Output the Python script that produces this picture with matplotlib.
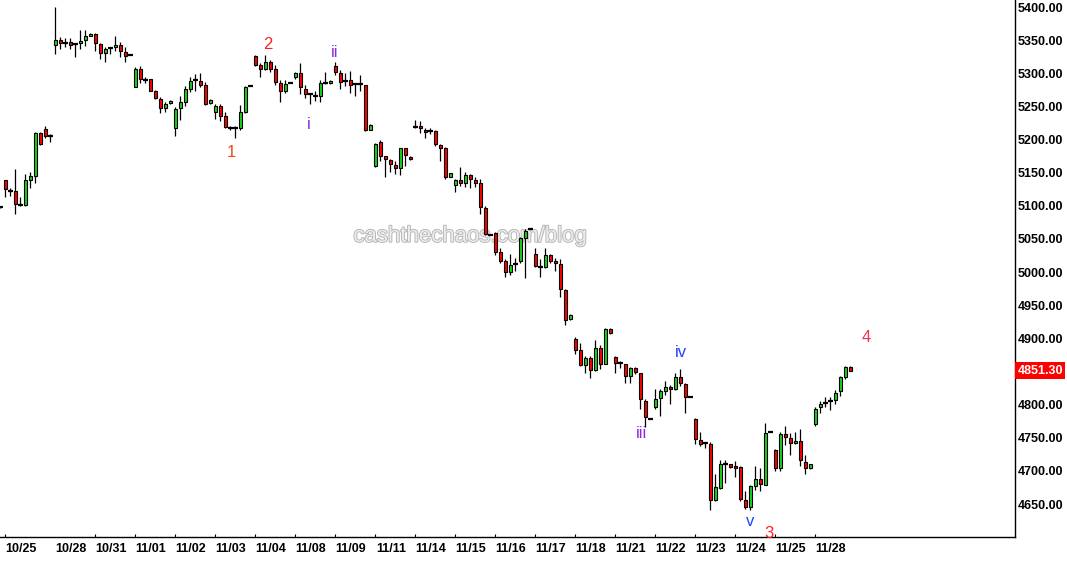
import numpy as np
import matplotlib.pyplot as plt
import matplotlib.transforms as mtransforms
import matplotlib.patheffects as pe

# hourly bars, 8 per session (first 11 belong to the 10/24-10/25 tail)
opens = [5098, 5139, 5122, 5122, 5101, 5101, 5139, 5145, 5210, 5216, 5205,
         5343, 5350, 5346, 5347, 5344, 5345, 5350, 5357,
         5359, 5344, 5330, 5338, 5339, 5342, 5332, 5328,
         5280, 5307, 5290, 5291, 5274, 5261, 5247, 5255,
         5218, 5247, 5257, 5277, 5290, 5288, 5282, 5255,
         5242, 5251, 5236, 5218, 5217, 5217, 5242, 5281,
         5326, 5312, 5306, 5317, 5306, 5286, 5274, 5286,
         5294, 5300, 5277, 5268, 5266, 5265, 5285, 5285,
         5311, 5301, 5289, 5290, 5284, 5284, 5282, 5215,
         5160, 5196, 5175, 5169, 5161, 5157, 5187, 5174,
         5219, 5221, 5215, 5213, 5213, 5192, 5188, 5144,
         5132, 5139, 5135, 5146, 5139, 5134, 5097, 5056,
         5059, 5030, 5017, 5000, 5012, 5016, 5052, 5065,
         5027, 5008, 5007, 5026, 5017, 5012, 4973, 4929,
         4899, 4882, 4860, 4871, 4852, 4886, 4862, 4914,
         4872, 4863, 4861, 4843, 4855, 4847, 4806, 4779,
         4796, 4810, 4821, 4827, 4823, 4841, 4831, 4812,
         4779, 4746, 4742, 4741, 4656, 4674, 4710, 4710,
         4707, 4706, 4656, 4646, 4677, 4688, 4679, 4758,
         4732, 4705, 4756, 4749, 4742, 4745, 4714, 4704,
         4771, 4796, 4803, 4806, 4807, 4821, 4842, 4857]
highs = [5099, 5139, 5127, 5156, 5113, 5148, 5151, 5212, 5211, 5220, 5208,
         5400, 5355, 5353, 5353, 5345, 5365, 5366, 5361,
         5361, 5345, 5340, 5339, 5357, 5347, 5340, 5328,
         5310, 5311, 5295, 5292, 5275, 5264, 5257, 5259,
         5249, 5265, 5281, 5295, 5299, 5300, 5287, 5261,
         5253, 5253, 5241, 5220, 5220, 5252, 5281, 5281,
         5328, 5316, 5328, 5320, 5312, 5290, 5290, 5286,
         5302, 5315, 5282, 5270, 5273, 5290, 5302, 5290,
         5317, 5305, 5300, 5303, 5286, 5297, 5283, 5223,
         5195, 5200, 5175, 5170, 5167, 5188, 5188, 5175,
         5229, 5228, 5217, 5217, 5214, 5193, 5189, 5150,
         5140, 5158, 5151, 5148, 5143, 5141, 5099, 5056,
         5061, 5037, 5019, 5027, 5021, 5053, 5065, 5065,
         5036, 5019, 5037, 5027, 5021, 5019, 4974, 4936,
         4902, 4893, 4873, 4873, 4898, 4890, 4915, 4915,
         4873, 4866, 4862, 4857, 4857, 4848, 4808, 4779,
         4823, 4823, 4835, 4830, 4848, 4853, 4832, 4812,
         4780, 4759, 4744, 4743, 4695, 4716, 4716, 4711,
         4715, 4707, 4669, 4678, 4707, 4704, 4772, 4758,
         4733, 4759, 4768, 4757, 4759, 4763, 4724, 4711,
         4796, 4806, 4812, 4811, 4822, 4843, 4858, 4858]
lows = [5097, 5113, 5115, 5088, 5099, 5100, 5127, 5134, 5192, 5202, 5196,
        5329, 5337, 5340, 5337, 5324, 5337, 5341, 5356,
        5333, 5321, 5317, 5329, 5333, 5324, 5317, 5328,
        5279, 5286, 5285, 5273, 5261, 5240, 5242, 5254,
        5206, 5229, 5251, 5272, 5274, 5279, 5252, 5254,
        5231, 5228, 5218, 5215, 5203, 5214, 5240, 5281,
        5311, 5295, 5305, 5302, 5282, 5257, 5271, 5286,
        5292, 5269, 5263, 5254, 5258, 5257, 5284, 5284,
        5297, 5276, 5281, 5270, 5266, 5274, 5213, 5214,
        5159, 5167, 5143, 5151, 5148, 5146, 5160, 5169,
        5218, 5210, 5202, 5208, 5190, 5168, 5140, 5143,
        5121, 5130, 5128, 5127, 5129, 5088, 5056, 5056,
        5026, 5014, 4992, 4996, 5002, 5013, 4991, 5065,
        5008, 4993, 5006, 5014, 5001, 4962, 4920, 4928,
        4877, 4858, 4848, 4840, 4851, 4853, 4861, 4907,
        4848, 4855, 4833, 4833, 4846, 4793, 4766, 4779,
        4794, 4783, 4815, 4801, 4822, 4828, 4788, 4812,
        4741, 4737, 4734, 4641, 4655, 4672, 4681, 4705,
        4690, 4654, 4642, 4641, 4671, 4669, 4679, 4758,
        4700, 4700, 4739, 4724, 4741, 4707, 4695, 4703,
        4768, 4788, 4797, 4792, 4801, 4813, 4838, 4851]
closes = [5098, 5125, 5122, 5103, 5101, 5139, 5145, 5210, 5193, 5205, 5205,
          5350, 5345, 5346, 5342, 5344, 5349, 5356, 5360,
          5345, 5330, 5336, 5338, 5342, 5333, 5326, 5328,
          5307, 5291, 5290, 5274, 5262, 5247, 5253, 5258,
          5246, 5257, 5276, 5288, 5290, 5283, 5254, 5260,
          5251, 5236, 5219, 5218, 5217, 5241, 5279, 5281,
          5313, 5306, 5317, 5307, 5287, 5274, 5284, 5286,
          5300, 5280, 5268, 5268, 5266, 5286, 5285, 5289,
          5302, 5287, 5289, 5283, 5284, 5284, 5214, 5222,
          5194, 5175, 5170, 5163, 5157, 5187, 5177, 5170,
          5219, 5217, 5212, 5213, 5194, 5187, 5143, 5149,
          5139, 5135, 5146, 5140, 5135, 5098, 5057, 5056,
          5031, 5017, 5000, 5011, 5012, 5051, 5062, 5065,
          5009, 5008, 5026, 5017, 5013, 4974, 4928, 4935,
          4882, 4860, 4871, 4852, 4886, 4862, 4914, 4908,
          4863, 4863, 4843, 4855, 4849, 4808, 4782, 4779,
          4808, 4820, 4826, 4823, 4841, 4832, 4811, 4812,
          4748, 4741, 4742, 4656, 4675, 4710, 4710, 4706,
          4705, 4657, 4645, 4677, 4688, 4680, 4757, 4758,
          4705, 4756, 4751, 4742, 4745, 4717, 4704, 4710,
          4794, 4801, 4803, 4806, 4818, 4841, 4856, 4851.3]

day_labels = ["10/28", "10/31", "11/01", "11/02", "11/03", "11/04", "11/08",
              "11/09", "11/11", "11/14", "11/15", "11/16", "11/17", "11/18",
              "11/21", "11/22", "11/23", "11/24", "11/25", "11/28"]
first_label = "10/25"
bars_per_day = 8
first_day_bar = 11

last_price = 4851.30
price_ticks = [5400, 5350, 5300, 5250, 5200, 5150, 5100, 5050, 5000, 4950,
               4900, 4800, 4750, 4700, 4650]

# wave count labels: text, bar position, price level, colour
wave_text = ["1", "2", "i", "ii", "iii", "iv", "v", "3", "4"]
wave_bar = [46.3, 53.5, 61.7, 66.9, 128.3, 136.1, 149.9, 153.7, 173.1]
wave_price = [5180, 5344, 5223, 5332, 4756, 4879, 4624, 4606, 4902]
wave_color = ["#f04a1a", "#ff2020", "#8a2be2", "#8a2be2", "#8a2be2",
              "#2040ff", "#2040ff", "#ff2020", "#f0305a"]

plt.rcParams['font.family'] = ['Liberation Sans', 'DejaVu Sans']

o = np.array(opens, dtype=float)
h = np.array(highs, dtype=float)
l = np.array(lows, dtype=float)
c = np.array(closes, dtype=float)
x = np.arange(len(o))

fig = plt.figure(figsize=(10.67, 5.61), dpi=100)
ax = fig.add_axes([0, 1 - 537 / 561, 1015 / 1067, 537 / 561])

# watermark behind the candles
ax.text(0.4634, 0.56, "cashthechaos.com/blog", transform=ax.transAxes,
        fontsize=16, color="#ececec", ha="center", va="center", zorder=0,
        path_effects=[pe.withStroke(linewidth=1.3, foreground="#b4b4b4")])

# wicks
ax.vlines(x, l, h, color="black", linewidth=0.9, zorder=2)

# bodies
up = c > o
down = c < o
flat = c == o
body_w = 0.64
ax.bar(x[up], (c - o)[up], bottom=o[up], width=body_w, color="#19d419",
       edgecolor="black", linewidth=0.8, zorder=3)
ax.bar(x[down], (o - c)[down], bottom=c[down], width=body_w, color="#ff0000",
       edgecolor="black", linewidth=0.8, zorder=3)
ax.hlines(o[flat], x[flat] - 0.45, x[flat] + 0.45, color="black",
          linewidth=1.6, zorder=3)

ax.set_xlim(-0.06, 202.94)
ax.set_ylim(4600.2, 5410.6)

# right price axis
ax.yaxis.tick_right()
ax.set_yticks(price_ticks)
ax.set_yticklabels([f"{v:.2f}" for v in price_ticks])
ax.tick_params(axis="y", length=0, pad=2, labelsize=9)
for t in ax.get_yticklabels():
    t.set_fontweight("bold")

trans = mtransforms.blended_transform_factory(ax.transAxes, ax.transData)
ax.text(1.0025, last_price, f"{last_price:.2f}", transform=trans, fontsize=9,
        fontweight="bold", color="white", ha="left", va="center",
        bbox=dict(boxstyle="square,pad=0.18", fc="#ff0000", ec="none"))

# date axis: small marks at session starts, label just right of each mark
day_starts = first_day_bar + bars_per_day * np.arange(len(day_labels))
tick_bars = np.concatenate([[1], day_starts[1:]])
ax.set_xticks(tick_bars)
ax.set_xticklabels([])
ax.set_xticks(np.concatenate([[4.1], day_starts + 3.1]), minor=True)
ax.set_xticklabels([first_label] + day_labels, minor=True)
ax.tick_params(axis="x", which="major", direction="in", length=2.5, width=0.8)
ax.tick_params(axis="x", which="minor", length=0, pad=4, labelsize=9)
for t in ax.get_xticklabels(minor=True):
    t.set_fontweight("bold")

for s in ["top", "left"]:
    ax.spines[s].set_visible(False)
for s in ["bottom", "right"]:
    ax.spines[s].set_linewidth(1.0)

for txt, b, p, col in zip(wave_text, wave_bar, wave_price, wave_color):
    ax.text(b, p, txt, color=col, fontsize=12, ha="center", va="center",
            zorder=4)

plt.savefig("out.png", dpi=100)
